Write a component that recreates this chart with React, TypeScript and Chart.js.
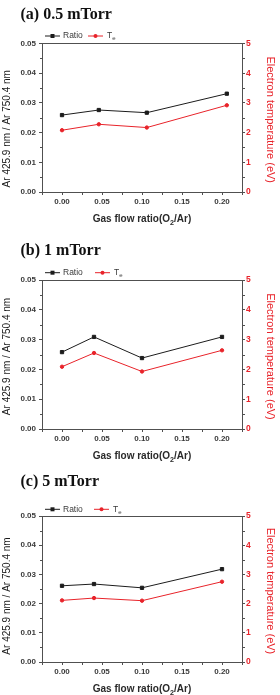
import React, { useEffect, useRef } from "react";
import { Chart, registerables } from "chart.js";

Chart.register(...registerables);

// O2 fraction of the Ar/O2 feed at each operating pressure
const flowA = [0, 0.046, 0.106, 0.206];
const flowB = [0, 0.04, 0.1, 0.2];
const flowC = [0, 0.04, 0.1, 0.2];

// Ar 425.9 nm / Ar 750.4 nm emission-line ratio
const ratioA = [0.0259, 0.0276, 0.0267, 0.0331];
const ratioB = [0.0258, 0.0309, 0.0238, 0.0309];
const ratioC = [0.0261, 0.0267, 0.0254, 0.0318];

// Electron temperature (eV)
const teA = [2.08, 2.28, 2.17, 2.92];
const teB = [2.09, 2.55, 1.93, 2.64];
const teC = [2.11, 2.19, 2.1, 2.75];

const panelTitles = ["(a) 0.5 mTorr", "(b) 1 mTorr", "(c) 5 mTorr"];
const flowTicks = [0, 0.05, 0.1, 0.15, 0.2];
const ratioTicks = [0, 0.01, 0.02, 0.03, 0.04, 0.05];
const teTicks = [0, 1, 2, 3, 4, 5];

const ratioLabel = "Ratio";
const teLabel = ["T", "e"];
const leftTitle = "Ar 425.9 nm / Ar 750.4 nm";
const rightTitle = "Electron temperature (eV)";
const bottomTitle = ["Gas flow ratio(O", "2", "/Ar)"];

const SANS = '"Liberation Sans", Arial, sans-serif';
const SERIF = '"Liberation Serif", "Times New Roman", serif';
const RED = "#e8232a";
const INK = "#1c1c1c";
const AXIS = "#505050";
const TICK_TEXT = "#3a3a3a";

const PLOT_LEFT = 42;
const PLOT_RIGHT = 242;
const WIDTH = 280;

type Frame = {
  height: number;
  titleY: number;
  legendY: number;
  redLegendX: number;
  plotTop: number;
  plotBottom: number;
  xTitleY: number;
  leftTitleShift: number;
};

const frames: Frame[] = [
  { height: 236, titleY: 19, legendY: 36, redLegendX: 88, plotTop: 43.5, plotBottom: 192, xTitleY: 219.5, leftTitleShift: 11 },
  { height: 231, titleY: 19, legendY: 36.7, redLegendX: 95, plotTop: 44, plotBottom: 193, xTitleY: 220.5, leftTitleShift: 2 },
  { height: 228, titleY: 19, legendY: 42.3, redLegendX: 94, plotTop: 49, plotBottom: 195, xTitleY: 222.5, leftTitleShift: 7 },
];

function minorValues(major: number[], min: number, max: number) {
  const step = major[1] - major[0];
  const out: number[] = [];
  for (let i = 0; i < major.length - 1; i++) out.push((major[i] + major[i + 1]) / 2);
  const lo = major[0] - step / 2;
  if (lo >= min - 1e-9) out.push(lo);
  const hi = major[major.length - 1] + step / 2;
  if (hi <= max + 1e-9) out.push(hi);
  return out;
}

// Draws text runs left to right; runs flagged sub are smaller and lowered.
function drawRuns(
  ctx: CanvasRenderingContext2D,
  runs: { text: string; sub?: boolean }[],
  x: number,
  y: number,
  size: number,
  weight: string,
  align: "left" | "center"
) {
  const subSize = size * 0.72;
  const widths = runs.map((r) => {
    ctx.font = `${weight} ${r.sub ? subSize : size}px ${SANS}`;
    return ctx.measureText(r.text).width;
  });
  const total = widths.reduce((s, w) => s + w, 0);
  let cx = align === "center" ? x - total / 2 : x;
  ctx.textAlign = "left";
  ctx.textBaseline = "middle";
  runs.forEach((r, i) => {
    ctx.font = `${weight} ${r.sub ? subSize : size}px ${SANS}`;
    ctx.fillText(r.text, cx, r.sub ? y + size * 0.32 : y);
    cx += widths[i];
  });
}

function makeDecor(title: string, frame: Frame) {
  return {
    id: "panelDecor",
    afterDraw(chart: any) {
      const { ctx, chartArea: a, scales } = chart;
      ctx.save();

      // top edge of the plot frame
      ctx.strokeStyle = AXIS;
      ctx.lineWidth = 1;
      ctx.beginPath();
      const ty = Math.floor(a.top) + 0.5;
      ctx.moveTo(a.left, ty);
      ctx.lineTo(a.right + 0.5, ty);
      ctx.stroke();

      // short minor ticks between the labelled ones
      ctx.beginPath();
      const bx = Math.floor(a.bottom) + 0.5;
      for (const v of minorValues(flowTicks, scales.x.min, scales.x.max)) {
        const px = Math.round(scales.x.getPixelForValue(v)) + 0.5;
        ctx.moveTo(px, bx);
        ctx.lineTo(px, bx + 2.5);
      }
      const lx = Math.floor(a.left) + 0.5;
      for (const v of minorValues(ratioTicks, scales.y.min, scales.y.max)) {
        const py = Math.round(scales.y.getPixelForValue(v)) + 0.5;
        ctx.moveTo(lx, py);
        ctx.lineTo(lx - 2.5, py);
      }
      const rx = Math.floor(a.right) + 0.5;
      for (const v of minorValues(teTicks, scales.y1.min, scales.y1.max)) {
        const py = Math.round(scales.y1.getPixelForValue(v)) + 0.5;
        ctx.moveTo(rx, py);
        ctx.lineTo(rx + 2.5, py);
      }
      ctx.stroke();

      // panel heading
      ctx.fillStyle = "#111";
      ctx.font = `bold 16px ${SERIF}`;
      ctx.textAlign = "left";
      ctx.textBaseline = "alphabetic";
      ctx.fillText(title, 20.5, frame.titleY);

      // legend
      const ly = frame.legendY;
      ctx.lineWidth = 1;
      ctx.strokeStyle = INK;
      ctx.beginPath();
      ctx.moveTo(45, ly);
      ctx.lineTo(60, ly);
      ctx.stroke();
      ctx.fillStyle = INK;
      ctx.fillRect(50.5, ly - 2, 4, 4);
      ctx.fillStyle = TICK_TEXT;
      drawRuns(ctx, [{ text: ratioLabel }], 63, ly, 8.5, "normal", "left");

      const rx0 = frame.redLegendX;
      ctx.strokeStyle = RED;
      ctx.beginPath();
      ctx.moveTo(rx0, ly);
      ctx.lineTo(rx0 + 15, ly);
      ctx.stroke();
      ctx.fillStyle = RED;
      ctx.beginPath();
      ctx.arc(rx0 + 7.5, ly, 2, 0, Math.PI * 2);
      ctx.fill();
      ctx.fillStyle = TICK_TEXT;
      drawRuns(ctx, [{ text: teLabel[0] }, { text: teLabel[1], sub: true }], rx0 + 19, ly, 8.5, "normal", "left");

      // x-axis title
      ctx.fillStyle = "#2a2a2a";
      drawRuns(
        ctx,
        [{ text: bottomTitle[0] }, { text: bottomTitle[1], sub: true }, { text: bottomTitle[2] }],
        (a.left + a.right) / 2,
        frame.xTitleY,
        10,
        "bold",
        "center"
      );

      // left axis title, reading upward
      const mid = (a.top + a.bottom) / 2;
      ctx.save();
      ctx.translate(7.5, mid + frame.leftTitleShift);
      ctx.rotate(-Math.PI / 2);
      ctx.fillStyle = "#1a1a1a";
      ctx.font = `10px ${SANS}`;
      ctx.textAlign = "center";
      ctx.textBaseline = "middle";
      ctx.fillText(leftTitle, 0, 0);
      ctx.restore();

      // right axis title, reading downward
      ctx.save();
      ctx.translate(270, mid + 2);
      ctx.rotate(Math.PI / 2);
      ctx.fillStyle = RED;
      ctx.font = `11px ${SANS}`;
      ctx.textAlign = "center";
      ctx.textBaseline = "middle";
      ctx.fillText(rightTitle, 0, 0);
      ctx.restore();

      ctx.restore();
    },
  };
}

function Panel({
  title,
  flow,
  ratio,
  te,
  frame,
}: {
  title: string;
  flow: number[];
  ratio: number[];
  te: number[];
  frame: Frame;
}) {
  const ref = useRef<HTMLCanvasElement | null>(null);

  useEffect(() => {
    const canvas = ref.current;
    if (!canvas) return;
    const tickFont = { family: SANS, size: 8, weight: "bold" as const };
    const chart = new Chart(canvas, {
      type: "line",
      data: {
        datasets: [
          {
            label: ratioLabel,
            data: flow.map((x, i) => ({ x, y: ratio[i] })),
            yAxisID: "y",
            borderColor: INK,
            backgroundColor: INK,
            borderWidth: 1,
            pointStyle: "rect",
            pointRadius: 2.3,
            pointBorderWidth: 1,
            pointBackgroundColor: INK,
            pointBorderColor: INK,
            tension: 0,
          },
          {
            label: teLabel.join(""),
            data: flow.map((x, i) => ({ x, y: te[i] })),
            yAxisID: "y1",
            borderColor: RED,
            backgroundColor: RED,
            borderWidth: 1,
            pointStyle: "circle",
            pointRadius: 1.7,
            pointBorderWidth: 1,
            pointBackgroundColor: RED,
            pointBorderColor: RED,
            tension: 0,
          },
        ],
      },
      options: {
        animation: false,
        responsive: false,
        maintainAspectRatio: false,
        events: [],
        layout: { padding: { top: frame.plotTop, left: 0, right: 0, bottom: 0 } },
        plugins: { legend: { display: false }, tooltip: { enabled: false }, title: { display: false } },
        scales: {
          x: {
            type: "linear",
            position: "bottom",
            min: -0.025,
            max: 0.225,
            afterBuildTicks: (s: any) => {
              s.ticks = flowTicks.map((value) => ({ value }));
            },
            afterFit: (s: any) => {
              s.height = frame.height - frame.plotBottom;
            },
            grid: { drawOnChartArea: false, drawTicks: true, tickLength: 3, tickColor: AXIS },
            border: { color: AXIS, width: 1 },
            ticks: {
              autoSkip: false,
              maxRotation: 0,
              padding: 2,
              color: TICK_TEXT,
              font: tickFont,
              callback: (v: any) => Number(v).toFixed(2),
            },
          },
          y: {
            type: "linear",
            position: "left",
            min: 0,
            max: 0.05,
            afterBuildTicks: (s: any) => {
              s.ticks = ratioTicks.map((value) => ({ value }));
            },
            afterFit: (s: any) => {
              s.width = PLOT_LEFT;
            },
            grid: { drawOnChartArea: false, drawTicks: true, tickLength: 3, tickColor: AXIS },
            border: { color: AXIS, width: 1 },
            ticks: {
              autoSkip: false,
              padding: 3,
              color: TICK_TEXT,
              font: tickFont,
              callback: (v: any) => Number(v).toFixed(2),
            },
          },
          y1: {
            type: "linear",
            position: "right",
            min: 0,
            max: 5,
            afterBuildTicks: (s: any) => {
              s.ticks = teTicks.map((value) => ({ value }));
            },
            afterFit: (s: any) => {
              s.width = WIDTH - PLOT_RIGHT;
            },
            grid: { drawOnChartArea: false, drawTicks: true, tickLength: 3, tickColor: AXIS },
            border: { color: AXIS, width: 1 },
            ticks: {
              autoSkip: false,
              padding: 1,
              color: RED,
              font: { family: SANS, size: 8.5, weight: "bold" as const },
              callback: (v: any) => String(v),
            },
          },
        },
      },
      plugins: [makeDecor(title, frame)],
    } as any);
    return () => chart.destroy();
  }, [title, flow, ratio, te, frame]);

  return (
    <canvas
      ref={ref}
      width={WIDTH}
      height={frame.height}
      style={{ display: "block", width: WIDTH, height: frame.height }}
    />
  );
}

export default function App() {
  return (
    <div style={{ position: "absolute", left: 0, top: 0, width: WIDTH, height: 695, background: "#fff" }}>
      <Panel title={panelTitles[0]} flow={flowA} ratio={ratioA} te={teA} frame={frames[0]} />
      <Panel title={panelTitles[1]} flow={flowB} ratio={ratioB} te={teB} frame={frames[1]} />
      <Panel title={panelTitles[2]} flow={flowC} ratio={ratioC} te={teC} frame={frames[2]} />
    </div>
  );
}
